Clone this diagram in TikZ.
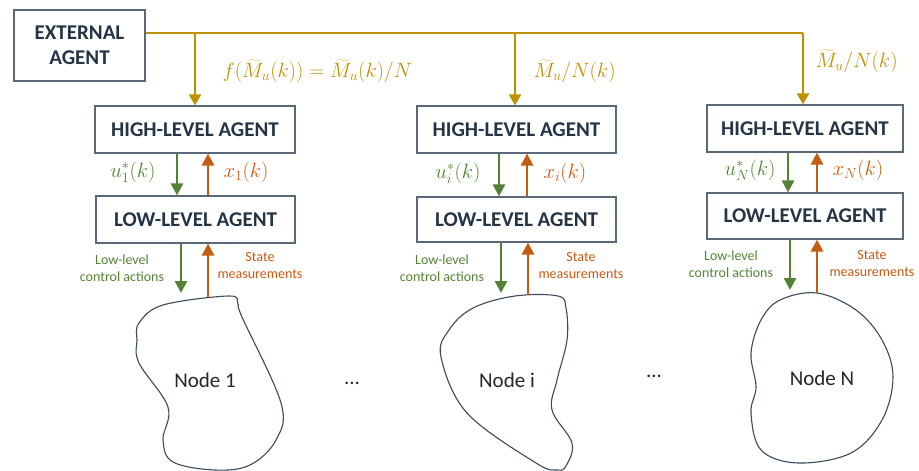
\documentclass[tikz,border=0pt]{standalone}
\usepackage{fontspec}
\setmainfont{Carlito}
\usetikzlibrary{arrows.meta}
\definecolor{gold}{HTML}{BF9000}
\definecolor{grn}{HTML}{548235}
\definecolor{org}{HTML}{C55A11}
\definecolor{boxln}{HTML}{5A6878}
\definecolor{boxtx}{HTML}{243445}
\definecolor{blobln}{HTML}{3A4A5A}
\begin{document}
\begin{tikzpicture}[x=1pt,y=-1pt,
  agent/.style={draw=boxln,line width=1.2pt,fill=white,text=boxtx,
    font=\fontsize{21}{25}\selectfont\bfseries,minimum height=47pt,inner sep=0pt,align=center},
  gline/.style={gold,line width=2.6pt},
  garrow/.style={gold,line width=2.6pt,-{Triangle[width=12pt,length=11pt]}},
  gar/.style={grn,line width=2.6pt,-{Triangle[width=12pt,length=12pt]}},
  oar/.style={org,line width=2.6pt,-{Triangle[width=12pt,length=12pt]}},
  glab/.style={text=gold,font=\fontsize{21}{25}\selectfont},
  mlab/.style={font=\fontsize{21.5}{25}\selectfont},
  slab/.style={align=center,font=\fontsize{14}{17}\selectfont},
  blob/.style={draw=blobln,line width=1.1pt},
  nlab/.style={text=black!85,font=\fontsize{21}{25}\selectfont}]
\useasboundingbox (0,0) rectangle (919,471);

% agents
\node[agent,minimum width=131pt,minimum height=71pt] (ext) at (79.5,45.5) {EXTERNAL\\AGENT};
\node[agent,minimum width=200pt] (hl1) at (195,129.5) {HIGH-LEVEL AGENT};
\node[agent,minimum width=199pt] (ll1) at (195.5,219.5) {LOW-LEVEL AGENT};
\node[agent,minimum width=199pt] (hl2) at (516.5,129.5) {HIGH-LEVEL AGENT};
\node[agent,minimum width=199pt,minimum height=45pt] (ll2) at (516.5,219.5) {LOW-LEVEL AGENT};
\node[agent,minimum width=196pt] (hl3) at (805,128.5) {HIGH-LEVEL AGENT};
\node[agent,minimum width=196pt,minimum height=46pt] (ll3) at (805,216) {LOW-LEVEL AGENT};

% gold bus
\coordinate (bus) at (0,33);
\coordinate (d1) at (195,33);
\coordinate (d2) at (515,33);
\coordinate (d3) at (803,33);
\draw[gline] (ext.east |- bus) -- (d3);
\draw[garrow] (d3) -- (d3 |- hl3.north);
\draw[garrow] (d1) -- (d1 |- hl1.north);
\draw[garrow] (d2) -- (d2 |- hl2.north);
\node[glab,anchor=west] (f1) at (219,71) {$f(\widetilde{M}_u(k))=\widetilde{M}_u(k)/N$};
\node[glab,anchor=west] (f2) at (530,71) {$\widetilde{M}_u/N(k)$};
\node[glab,anchor=west] (f3) at (812,61) {$\widetilde{M}_u/N(k)$};

% high <-> low arrows
\draw[gar] ([xshift=-18pt]hl1.south) -- ([xshift=-18.5pt]ll1.north);
\draw[oar] ([xshift=12.5pt]ll1.north) -- ([xshift=13pt]hl1.south);
\draw[gar] ([xshift=-17.5pt]hl2.south) -- ([xshift=-17.5pt]ll2.north);
\draw[oar] ([xshift=10.5pt]ll2.north) -- ([xshift=10.5pt]hl2.south);
\draw[gar] ([xshift=-17pt]hl3.south) -- ([xshift=-17pt]ll3.north);
\draw[oar] ([xshift=12pt]ll3.north) -- ([xshift=12pt]hl3.south);

\node[mlab,text=grn,anchor=east] (u1) at (159,172) {$u_1^*(k)$};
\node[mlab,text=org,anchor=west] (x1) at (220,172) {$x_1(k)$};
\node[mlab,text=grn,anchor=east] (ui) at (484,173) {$u_i^*(k)$};
\node[mlab,text=org,anchor=west] (xi) at (540,173) {$x_i(k)$};
\node[mlab,text=grn,anchor=east] (uN) at (779,170) {$u_N^*(k)$};
\node[mlab,text=org,anchor=west] (xN) at (829,170) {$x_N(k)$};

% blobs
\draw[blob] plot[smooth cycle,tension=0.6] coordinates {
 (139,323) (163,305) (229,296) (238,304) (242,317) (281,403) (276,440)
 (250,465) (215,470) (173,462) (163,440) (168,407) (139,363) (137,340)};
\draw[blob] plot[smooth cycle,tension=0.6] coordinates {
 (515,296) (558,296) (566,308) (567,340) (557,380) (552,410) (572,443) (566,466)
 (557,470) (536,463) (467,413) (441,357) (449,330) (473,308)};
\draw[blob] plot[smooth cycle,tension=0.6] coordinates {
 (817,293) (856,310) (882,340) (893,377) (882,420) (851,453) (798,463)
 (761,450) (751,413) (756,387) (751,353) (761,320) (780,300)};

\coordinate (g1) at (181,293);
\coordinate (o1) at (208,297);
\coordinate (g2) at (501,293);
\coordinate (o2) at (528,295);
\coordinate (g3) at (790,290);
\coordinate (o3) at (817,293);
\draw[gar] (ll1.south -| g1) -- (g1);
\draw[oar] (o1) -- (ll1.south -| o1);
\draw[gar] (ll2.south -| g2) -- (g2);
\draw[oar] (o2) -- (ll2.south -| o2);
\draw[gar] (ll3.south -| g3) -- (g3);
\draw[oar] (o3) -- (ll3.south -| o3);

\node[slab,text=grn] (c1) at (122,268.5) {Low-level\\control actions};
\node[slab,text=org] (s1) at (260,266) {State\\measurements};
\node[slab,text=grn] (c2) at (442,268.5) {Low-level\\control actions};
\node[slab,text=org] (s2) at (581,266) {State\\measurements};
\node[slab,text=grn] (c3) at (731,264.5) {Low-level\\control actions};
\node[slab,text=org] (s3) at (872,264) {State\\measurements};

\node[nlab] (n1) at (205,380) {Node 1};
\node[nlab] (ni) at (507,380) {Node i};
\node[nlab] (nN) at (822,378) {Node N};
\node[nlab] (dots1) at (352,383) {...};
\node[nlab] (dots2) at (654,376) {...};
\end{tikzpicture}
\end{document}
